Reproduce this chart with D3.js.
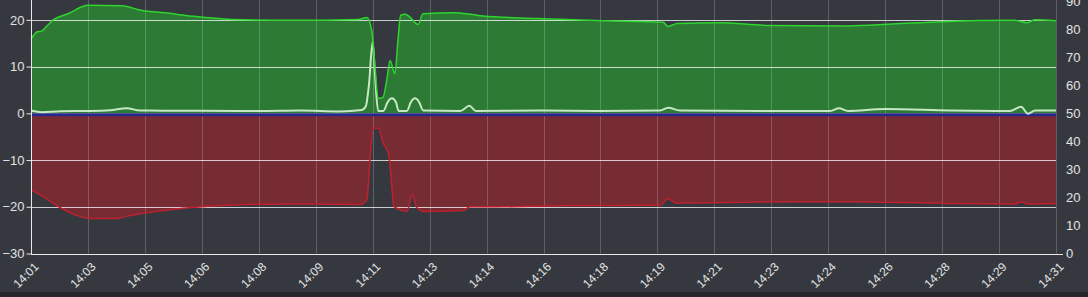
<!DOCTYPE html>
<html>
<head>
<meta charset="utf-8">
<script src="https://cdn.jsdelivr.net/npm/d3@7"></script>
<style>
  body { margin: 0; background: #35393f; overflow: hidden; }
  svg { display: block; }
</style>
</head>
<body>
<div id="chart"></div>
<script>
// minutes after 14:01, value
var greenSeries = [
  [0, 15.8], [0.17, 17.4], [0.31, 17.6], [0.44, 18.5], [0.65, 20.0], [1.08, 21.3],
  [1.67, 23.1], [2.66, 23.0], [3.25, 22.0], [3.92, 21.5], [4.71, 20.8], [5.88, 20.1],
  [7.64, 19.9], [9.57, 20.1], [9.83, 20.5], [9.97, 17.8], [10.07, 9.9], [10.16, 3.2],
  [10.3, 3.4], [10.41, 7], [10.51, 11.3], [10.65, 8.5], [10.74, 15.6], [10.82, 21],
  [10.95, 21.2], [11.09, 20.6], [11.33, 19], [11.47, 21.3], [12.35, 21.5], [12.85, 21.2],
  [13.23, 20.8], [14.81, 20.3], [16.74, 19.8], [18.5, 19.5], [18.64, 18.6], [18.91, 19.2],
  [20.17, 19.4], [21.57, 18.8], [23.91, 18.7], [25.2, 19.1], [26.66, 19.6], [28.8, 19.9],
  [29.15, 19.4], [29.39, 20], [30, 19.8]
];

var redSeries = [
  [0, -16.3], [0.26, -17.4], [0.56, -18.8], [0.85, -20.2], [1.29, -21.7], [1.73, -22.5],
  [2.52, -22.5], [2.81, -22.0], [3.48, -21.2], [4.45, -20.3], [5.91, -19.6], [7.87, -19.4],
  [9.63, -19.5], [9.83, -18.5], [9.92, -10], [10.02, -3.2], [10.17, -3.2], [10.31, -6.4],
  [10.46, -8.5], [10.53, -12.7], [10.62, -19.9], [10.7, -20.3], [11.0, -21], [11.17, -17.4],
  [11.27, -19.9], [11.48, -21], [12.65, -20.8], [12.85, -20], [13.43, -20], [15.48, -19.8],
  [18.41, -19.7], [18.64, -18.3], [18.88, -19.2], [21.34, -19], [23.97, -18.9], [26.9, -19.3],
  [28.8, -19.4], [28.98, -19.0], [29.18, -19.4], [30, -19.3]
];

var whiteSeries = [
  [0, 0.6], [0.32, 0.25], [0.85, 0.45], [1.73, 0.5], [2.31, 0.65], [2.8, 1.1], [3.19, 0.6],
  [4.95, 0.55], [6.7, 0.5], [7.87, 0.6], [9.04, 0.4], [9.68, 0.7], [9.8, 1.5], [9.89, 6],
  [10.0, 15.3], [10.07, 8], [10.16, 0.5], [10.31, 0.5], [10.44, 2.4], [10.56, 3.2], [10.68, 2.4],
  [10.76, 0.5], [11.0, 0.5], [11.12, 2.4], [11.24, 3.2], [11.36, 2.4], [11.48, 0.6], [12.56, 0.5],
  [12.83, 1.6], [13.02, 0.5], [14.9, 0.6], [16.65, 0.5], [18.41, 0.6], [18.65, 1.2], [18.99, 0.6],
  [21.34, 0.5], [23.39, 0.5], [23.65, 1.1], [23.91, 0.5], [25.0, 0.9], [26.9, 0.6], [28.65, 0.5],
  [28.98, 1.4], [29.18, -0.1], [29.39, 0.6], [30, 0.6]
];

var blueSeries = [[0, -0.3], [30, -0.3]];

var xTickLabels = ["14:01", "14:03", "14:05", "14:06", "14:08", "14:09", "14:11", "14:13", "14:14",
  "14:16", "14:18", "14:19", "14:21", "14:23", "14:24", "14:26", "14:28", "14:29", "14:31"];
var leftTicks = [-30, -20, -10, 0, 10, 20];
var rightTicks = [0, 10, 20, 30, 40, 50, 60, 70, 80, 90];

var W = 1088, H = 297;
var mLeft = 31, mRight = 1056, mTop = 0, mBottom = 253.5;

var svg = d3.select("#chart").append("svg")
  .attr("width", W).attr("height", H);

svg.append("rect").attr("width", W).attr("height", H).attr("fill", "#35393f");
svg.append("rect").attr("y", 292).attr("width", W).attr("height", 5).attr("fill", "#25272b");

var x = d3.scaleLinear().domain([0, 30]).range([mLeft, mRight]);
var y = d3.scaleLinear().domain([-30, 24.25]).range([mBottom, mTop]);
var y2 = d3.scaleLinear().domain([0, 90.3]).range([mBottom, mTop]);

var xTicks = xTickLabels.map(function(d, i) { return i * 30 / (xTickLabels.length - 1); });

var area = d3.area()
  .x(function(d) { return x(d[0]); })
  .y0(y(0))
  .y1(function(d) { return y(d[1]); })
  .curve(d3.curveMonotoneX);

var line = d3.line()
  .x(function(d) { return x(d[0]); })
  .y(function(d) { return y(d[1]); })
  .curve(d3.curveMonotoneX);

svg.append("path").datum(greenSeries).attr("d", area).attr("fill", "#2d7a35");
svg.append("path").datum(redSeries).attr("d", area).attr("fill", "#772b33");

// vertical grid
svg.append("g").selectAll("line").data(xTicks).enter().append("line")
  .attr("x1", function(d) { return Math.round(x(d)) + 0.5; })
  .attr("x2", function(d) { return Math.round(x(d)) + 0.5; })
  .attr("y1", mTop).attr("y2", mBottom)
  .attr("stroke", "#ffffff").attr("stroke-opacity", 0.2);

// horizontal grid
svg.append("g").selectAll("line").data(leftTicks.filter(function(d) { return d > -30; })).enter().append("line")
  .attr("x1", mLeft).attr("x2", mRight)
  .attr("y1", function(d) { return Math.round(y(d)) + 0.5; })
  .attr("y2", function(d) { return Math.round(y(d)) + 0.5; })
  .attr("stroke", "#ffffff").attr("stroke-opacity", 0.75);

svg.append("path").datum(blueSeries).attr("d", line)
  .attr("fill", "none").attr("stroke", "#28288a").attr("stroke-width", 3);
svg.append("path").datum(whiteSeries).attr("d", line)
  .attr("fill", "none").attr("stroke", "#c6e8c2").attr("stroke-width", 2);
svg.append("path").datum(greenSeries).attr("d", line)
  .attr("fill", "none").attr("stroke", "#2fd42f").attr("stroke-width", 1.5);
svg.append("path").datum(redSeries).attr("d", line)
  .attr("fill", "none").attr("stroke", "#c0202e").attr("stroke-width", 1.5);

// axes
var leftAxis = svg.append("g").attr("transform", "translate(" + (mLeft + 0.5) + ",0)")
  .call(d3.axisLeft(y).tickValues(leftTicks).tickSize(5).tickPadding(2));
var rightAxis = svg.append("g").attr("transform", "translate(" + mRight + ",0)")
  .call(d3.axisRight(y2).tickValues(rightTicks).tickSize(0).tickPadding(10));
var bottomAxis = svg.append("g").attr("transform", "translate(0," + (Math.round(mBottom) + 0.5) + ")")
  .call(d3.axisBottom(x).tickValues(xTicks).tickSize(5).tickFormat(function(d, i) { return xTickLabels[i]; }));

rightAxis.select(".domain").remove();
bottomAxis.select(".domain").attr("d", "M" + mLeft + ",0H" + (mRight + 7));
leftAxis.select(".domain").attr("d", "M0," + mTop + "V" + Math.round(mBottom));

svg.selectAll(".domain").attr("stroke", "#e8e8e8");
svg.selectAll(".tick line").attr("stroke", "#e8e8e8");
svg.selectAll(".tick text")
  .attr("fill", "#e2e2e2")
  .style("font-family", "'Liberation Sans', Arial, sans-serif")
  .style("font-size", "13px");

bottomAxis.selectAll(".tick line").attr("stroke-opacity", 0);
bottomAxis.selectAll(".tick text")
  .style("font-size", "12px")
  .attr("text-anchor", "end")
  .attr("x", 0).attr("y", 0).attr("dy", "0.35em")
  .attr("transform", "translate(5,10) rotate(-45)");
</script>
</body>
</html>
